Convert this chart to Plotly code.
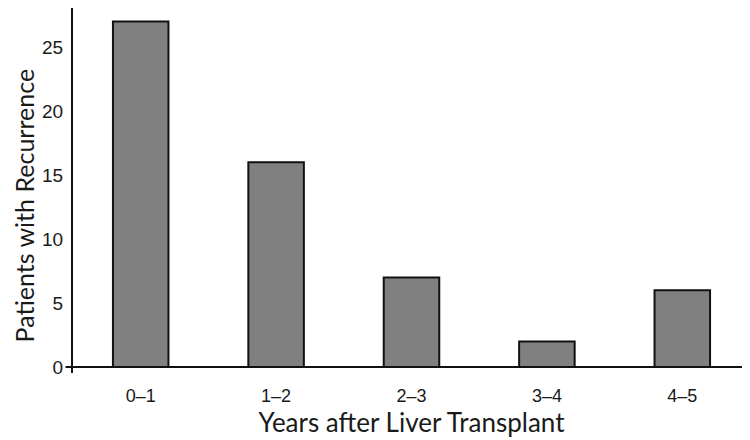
import plotly.graph_objects as go

categories = ["0\u20131", "1\u20132", "2\u20133", "3\u20134", "4\u20135"]
patients = [27, 16, 7, 2, 6]
y_ticks = [0, 5, 10, 15, 20, 25]

fig = go.Figure()
fig.add_trace(go.Bar(
    x=categories, y=patients,
    marker=dict(color="#808080", line=dict(color="#111111", width=2)),
    width=0.41,
))

fig.add_shape(type="line", xref="paper", yref="y", x0=-0.011, x1=1, y0=0, y1=0,
              line=dict(color="#111111", width=2), layer="above")

fig.add_annotation(text="Patients with Recurrence", textangle=-90,
                   xref="paper", yref="paper", x=-0.096, y=0.459,
                   xanchor="left", yanchor="middle", showarrow=False,
                   borderpad=0,
                   font=dict(family="Lato, sans-serif", size=25, color="#1a1a1a"))

fig.update_layout(
    width=742, height=432,
    margin=dict(l=65, r=0, t=0, b=67),
    plot_bgcolor="white", paper_bgcolor="white",
    showlegend=False,
    xaxis=dict(
        type="category", range=[-0.5, 4.5],
        showline=False, showgrid=False, ticks="",
        tickfont=dict(family="Liberation Sans, Arial", size=18, color="#1a1a1a"),
        ticklabelstandoff=10,
        title=dict(text="Years after Liver Transplant",
                   font=dict(family="Lato, sans-serif", size=26, color="#1a1a1a"),
                   standoff=4),
    ),
    yaxis=dict(
        range=[-0.47, 28.05],
        tickvals=y_ticks,
        showline=True, linecolor="#111111", linewidth=2,
        showgrid=False, zeroline=False, ticks="",
        tickfont=dict(family="Liberation Sans, Arial", size=19, color="#1a1a1a"),
        ticklabelstandoff=4,
    ),
)

fig.write_html("out.html")
